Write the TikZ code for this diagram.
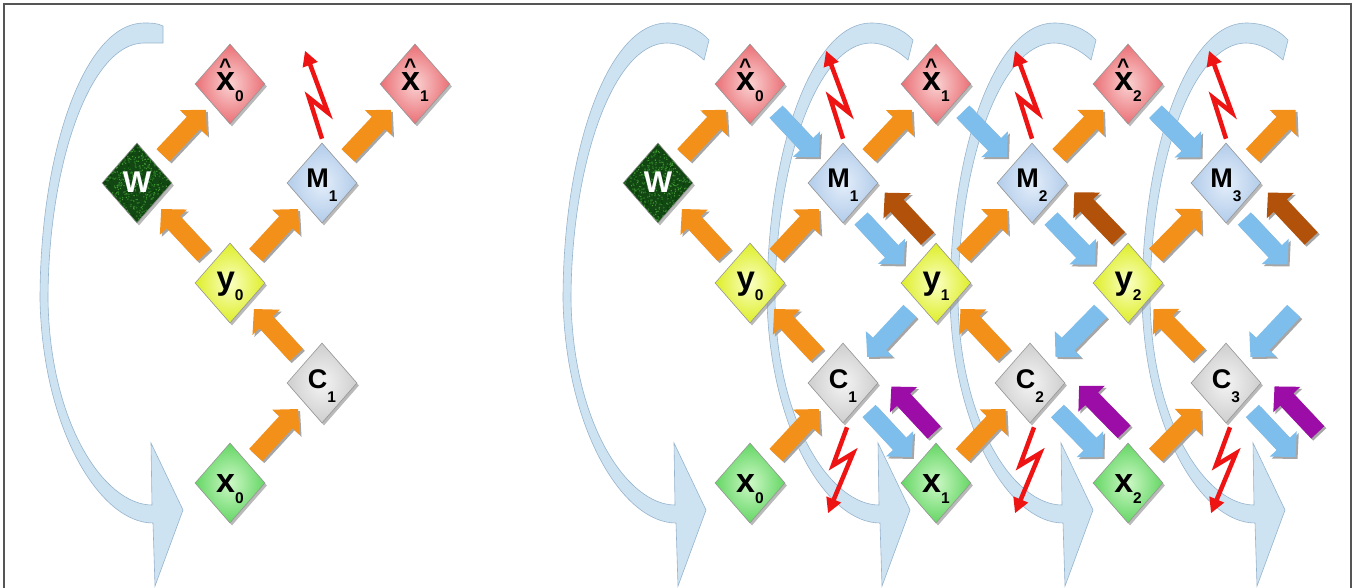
\documentclass[tikz,border=0pt]{standalone}
\usepackage{fontspec}
\setmainfont{Liberation Sans}
\usetikzlibrary{shapes.geometric,shadows,calc,arrows.meta}

\definecolor{orangeA}{RGB}{243,144,25}
\definecolor{blueA}{RGB}{125,190,236}
\definecolor{brownA}{RGB}{178,82,10}
\definecolor{purpleA}{RGB}{156,12,166}
\definecolor{boltred}{RGB}{238,20,20}
\definecolor{loopfill}{RGB}{206,227,242}
\definecolor{loopdraw}{RGB}{150,180,205}
\definecolor{frameg}{RGB}{85,85,85}
\definecolor{diaborder}{RGB}{150,150,150}
\definecolor{pinkin}{RGB}{250,210,210}
\definecolor{pinkout}{RGB}{234,112,118}
\definecolor{bluein}{RGB}{228,238,250}
\definecolor{blueout}{RGB}{178,204,234}
\definecolor{yelin}{RGB}{250,255,195}
\definecolor{yelout}{RGB}{222,238,40}
\definecolor{grayin}{RGB}{244,244,244}
\definecolor{grayout}{RGB}{206,206,206}
\definecolor{grnin}{RGB}{205,248,198}
\definecolor{grnout}{RGB}{100,214,100}
\definecolor{wdark}{RGB}{18,70,18}
\definecolor{wlight}{RGB}{70,160,55}
\definecolor{wmid}{RGB}{40,115,35}

\newcommand\lbl[4]{{\fontsize{#1}{#1}\selectfont #2}\raisebox{-#3}{\fontsize{15.5pt}{15.5pt}\selectfont #4}}
\newcommand\hx{\makebox[0pt][l]{\makebox[18pt]{\raisebox{17pt}{\fontsize{21pt}{21pt}\selectfont\textasciicircum}}}x}

\tikzset{
 dia/.style={diamond, minimum width=70pt, minimum height=80pt, inner sep=0pt,
   draw=diaborder, line width=0.6pt, text depth=0pt,
   drop shadow={shadow xshift=2pt, shadow yshift=-2.5pt, fill=black!50, opacity=0.55},
   font=\bfseries},
 xhnode/.style={dia, shading=radial, inner color=pinkin, outer color=pinkout, text height=14pt},
 mnode/.style={dia, shading=radial, inner color=bluein, outer color=blueout, text height=10pt},
 ynode/.style={dia, shading=radial, inner color=yelin, outer color=yelout, text height=12pt},
 cnode/.style={dia, shading=radial, inner color=grayin, outer color=grayout, text height=10pt},
 xnode/.style={dia, shading=radial, inner color=grnin, outer color=grnout, text height=18pt},
 wnode/.style={dia, fill=wdark, text=white, text height=20pt,
   path picture={
     \foreach \i in {1,...,350}{
       \pgfmathsetmacro\rx{rand*36}\pgfmathsetmacro\ry{rand*40}
       \fill[wmid] ([shift={(\rx pt,\ry pt)}]path picture bounding box.center) circle (1pt);}
     \foreach \i in {1,...,300}{
       \pgfmathsetmacro\rx{rand*36}\pgfmathsetmacro\ry{rand*40}
       \fill[wlight] ([shift={(\rx pt,\ry pt)}]path picture bounding box.center) circle (0.7pt);}
     \foreach \i in {1,...,150}{
       \pgfmathsetmacro\rx{rand*36}\pgfmathsetmacro\ry{rand*40}
       \fill[black!75!green] ([shift={(\rx pt,\ry pt)}]path picture bounding box.center) circle (0.8pt);}
   }},
 fat/.style={line width=18pt, -{Triangle[width=36pt,length=18pt]}},
 fatsh/.style={fat, draw=black!35, transform canvas={shift={(2pt,-2pt)}}},
 bolt/.style={draw=boltred, line width=4.5pt, line join=miter, -{Triangle[width=15pt,length=15pt]}},
 loopshape/.style={fill=loopfill, draw=loopdraw, line width=0.6pt},
 frameline/.style={draw=frameg, line width=1.4pt}
}

\newcommand\fatarr[4]{%
 \draw[fatsh] ($(#2)!0.28!(#3)!#4!-90:(#3)$) -- ($(#2)!0.74!(#3)!#4!-90:(#3)$);
 \draw[fat,draw=#1] ($(#2)!0.28!(#3)!#4!-90:(#3)$) -- ($(#2)!0.74!(#3)!#4!-90:(#3)$);}
\newcommand\boltup[1]{\draw[bolt] (#1.north) ++(0,-4) -- ++(-13,-41) -- ++(19,15) -- ++(-23,-62);}
\newcommand\boltdown[1]{\draw[bolt] (#1.south) ++(4,4) -- ++(-14,38) -- ++(20,-12) -- ++(-25,60);}

\begin{document}
\begin{tikzpicture}[x=1pt,y=-1pt]
\pgfmathsetseed{7}
\useasboundingbox (0,0) rectangle (1357,588);
\fill[white] (0,0) rectangle (1357,588);
\draw[frameline] (4,592) -- (4,4) -- (1351,4) -- (1351,592);

% big feedback loops
\begin{scope}[shift={(40,0)}]
\filldraw[loopshape] (123,26) .. controls (117,23) and (111,23) .. (104,23)
  .. controls (45,23) and (0,150) .. (0,300)
  .. controls (3,430) and (60,523) .. (113,523)
  -- (115,586) -- (143,510) -- (111,443) -- (112,505)
  .. controls (65,505) and (10,425) .. (8,300)
  .. controls (8,165) and (50,43) .. (104,43)
  .. controls (111,43) and (117,43) .. (123,43) -- cycle;
\end{scope}
\foreach \xl in {563,767,950,1142}{
\begin{scope}[shift={(\xl,0)}]
\filldraw[loopshape] (146,40) .. controls (135,28) and (120,23) .. (104,23)
  .. controls (45,23) and (0,150) .. (0,300)
  .. controls (3,430) and (60,523) .. (113,523)
  -- (115,586) -- (143,510) -- (111,443) -- (112,505)
  .. controls (65,505) and (10,425) .. (8,300)
  .. controls (8,165) and (50,43) .. (104,43)
  .. controls (117,43) and (130,50) .. (141,60) -- cycle;
\end{scope}}

% ---------- left diagram ----------
\node[wnode]  (WL)   at (137,183) {\fontsize{30pt}{30pt}\selectfont W};
\node[xhnode] (xh0L) at (230,84)  {\lbl{34pt}{\hx}{11pt}{0}};
\node[mnode]  (M1L)  at (322,183) {\lbl{27pt}{M}{14pt}{1}};
\node[xhnode] (xh1L) at (415,84)  {\lbl{34pt}{\hx}{11pt}{1}};
\node[ynode]  (y0L)  at (230,283) {\lbl{33pt}{y}{11pt}{0}};
\node[cnode]  (C1L)  at (322,383) {\lbl{27pt}{C}{14pt}{1}};
\node[xnode]  (x0L)  at (230,483) {\lbl{34pt}{x}{11pt}{0}};

\fatarr{orangeA}{WL}{xh0L}{0pt}
\fatarr{orangeA}{y0L}{WL}{0pt}
\fatarr{orangeA}{y0L}{M1L}{0pt}
\fatarr{orangeA}{M1L}{xh1L}{0pt}
\fatarr{orangeA}{C1L}{y0L}{0pt}
\fatarr{orangeA}{x0L}{C1L}{0pt}
\boltup{M1L}

% ---------- right diagram ----------
\node[wnode]  (W)   at (658,183)  {\fontsize{30pt}{30pt}\selectfont W};
\node[xhnode] (xh0) at (750,84)   {\lbl{34pt}{\hx}{11pt}{0}};
\node[xhnode] (xh1) at (936,84)   {\lbl{34pt}{\hx}{11pt}{1}};
\node[xhnode] (xh2) at (1128,84)  {\lbl{34pt}{\hx}{11pt}{2}};
\node[mnode]  (M1)  at (843,183)  {\lbl{27pt}{M}{14pt}{1}};
\node[mnode]  (M2)  at (1032,183) {\lbl{27pt}{M}{14pt}{2}};
\node[mnode]  (M3)  at (1226,183) {\lbl{27pt}{M}{14pt}{3}};
\node[ynode]  (y0)  at (750,283)  {\lbl{33pt}{y}{11pt}{0}};
\node[ynode]  (y1)  at (936,283)  {\lbl{33pt}{y}{11pt}{1}};
\node[ynode]  (y2)  at (1128,283) {\lbl{33pt}{y}{11pt}{2}};
\node[cnode]  (C1)  at (843,383)  {\lbl{27pt}{C}{14pt}{1}};
\node[cnode]  (C2)  at (1030,383) {\lbl{27pt}{C}{14pt}{2}};
\node[cnode]  (C3)  at (1226,383) {\lbl{27pt}{C}{14pt}{3}};
\node[xnode]  (x0)  at (750,483)  {\lbl{34pt}{x}{11pt}{0}};
\node[xnode]  (x1)  at (936,483)  {\lbl{34pt}{x}{11pt}{1}};
\node[xnode]  (x2)  at (1128,483) {\lbl{34pt}{x}{11pt}{2}};
\coordinate (xh3) at (1320,84);
\coordinate (y3)  at (1320,283);
\coordinate (x3)  at (1320,483);

% orange
\fatarr{orangeA}{W}{xh0}{0pt}
\fatarr{orangeA}{y0}{W}{0pt}
\fatarr{orangeA}{y0}{M1}{0pt}
\fatarr{orangeA}{C1}{y0}{0pt}
\fatarr{orangeA}{x0}{C1}{0pt}
\fatarr{orangeA}{M1}{xh1}{0pt}
\fatarr{orangeA}{y1}{M2}{0pt}
\fatarr{orangeA}{C2}{y1}{0pt}
\fatarr{orangeA}{x1}{C2}{0pt}
\fatarr{orangeA}{M2}{xh2}{0pt}
\fatarr{orangeA}{y2}{M3}{0pt}
\fatarr{orangeA}{C3}{y2}{0pt}
\fatarr{orangeA}{x2}{C3}{0pt}
\fatarr{orangeA}{M3}{xh3}{0pt}
% blue
\fatarr{blueA}{xh0}{M1}{0pt}
\fatarr{blueA}{xh1}{M2}{0pt}
\fatarr{blueA}{xh2}{M3}{0pt}
\fatarr{blueA}{M1}{y1}{11pt}
\fatarr{blueA}{M2}{y2}{11pt}
\fatarr{blueA}{M3}{y3}{11pt}
\fatarr{blueA}{y1}{C1}{0pt}
\fatarr{blueA}{y2}{C2}{0pt}
\fatarr{blueA}{y3}{C3}{0pt}
\fatarr{blueA}{C1}{x1}{0pt}
\fatarr{blueA}{C2}{x2}{0pt}
\fatarr{blueA}{C3}{x3}{0pt}
% brown
\fatarr{brownA}{y1}{M1}{24pt}
\fatarr{brownA}{y2}{M2}{24pt}
\fatarr{brownA}{y3}{M3}{24pt}
% purple
\fatarr{purpleA}{x1}{C1}{33pt}
\fatarr{purpleA}{x2}{C2}{33pt}
\fatarr{purpleA}{x3}{C3}{33pt}
% lightning
\boltup{M1}\boltup{M2}\boltup{M3}
\boltdown{C1}\boltdown{C2}\boltdown{C3}
\end{tikzpicture}
\end{document}
